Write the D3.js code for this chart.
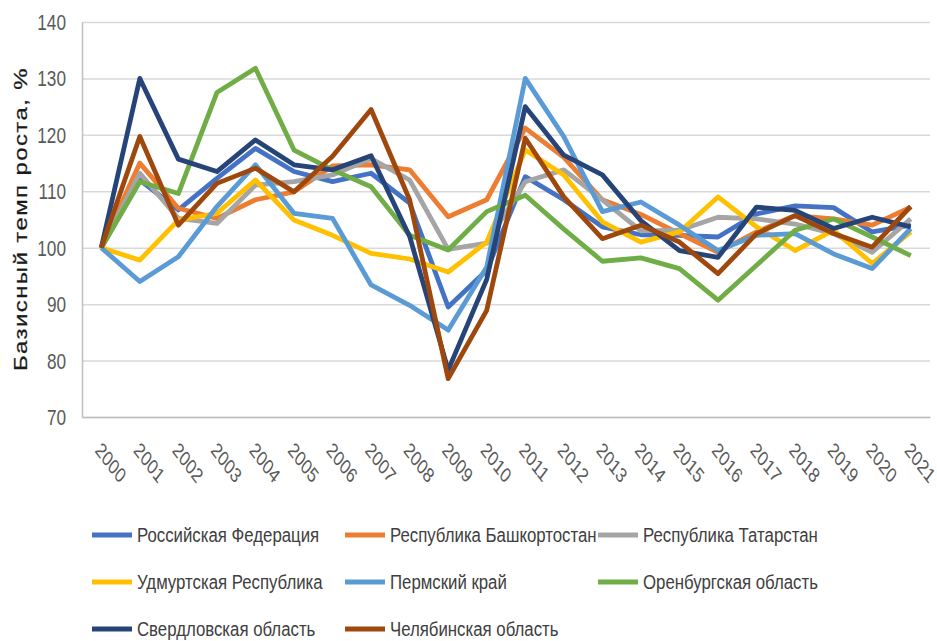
<!DOCTYPE html>
<html>
<head>
<meta charset="utf-8">
<script src="https://cdn.jsdelivr.net/npm/d3@7"></script>
<style>
    body { margin: 0; background: #fff; }
    text { font-family: "Liberation Sans", Arial, sans-serif; }
</style>
</head>
<body>
<div id="main"></div>
<script>
const width = 937, height = 641;
const margin = {left: 82, top: 22, right: 7, bottom: 224};
const squeeze = 0.8; // text in the source picture is horizontally compressed

const years = ["2000", "2001", "2002", "2003", "2004", "2005", "2006", "2007", "2008", "2009", "2010",
    "2011", "2012", "2013", "2014", "2015", "2016", "2017", "2018", "2019", "2020", "2021"];
const yTicks = [70, 80, 90, 100, 110, 120, 130, 140];

const names = ["Российская Федерация", "Республика Башкортостан", "Республика Татарстан",
    "Удмуртская Республика", "Пермский край", "Оренбургская область",
    "Свердловская область", "Челябинская область"];
const colors = ["#4472C4", "#ED7D31", "#A5A5A5", "#FFC000", "#5B9BD5", "#70AD47", "#264478", "#9E480E"];

const russia      = [100, 112.0, 106.7, 112.3, 117.6, 113.5, 111.7, 113.2, 107.9, 89.5, 96.0, 112.6, 108.5, 103.7, 102.3, 102.2, 101.9, 106.0, 107.4, 107.1, 102.8, 104.0];
const bashkiria   = [100, 115.0, 107.0, 105.2, 108.5, 109.9, 114.5, 114.7, 113.8, 105.5, 108.5, 121.2, 116.0, 108.5, 105.9, 102.5, 99.2, 102.8, 105.7, 105.1, 104.0, 107.2];
const tatarstan   = [100, 113.2, 105.2, 104.3, 111.1, 111.7, 112.9, 115.8, 112.0, 99.7, 100.8, 111.7, 113.8, 108.5, 103.0, 103.1, 105.4, 105.1, 104.2, 102.5, 99.2, 105.1];
const udmurtia    = [100, 97.8, 104.9, 106.1, 112.0, 104.9, 102.2, 99.0, 98.0, 95.7, 101.0, 117.3, 112.9, 104.6, 101.0, 102.8, 109.0, 103.7, 99.5, 103.1, 97.2, 102.8];
const perm        = [100, 94.0, 98.4, 107.3, 114.7, 106.1, 105.2, 93.4, 89.8, 85.4, 96.6, 130.0, 119.7, 106.4, 108.1, 104.0, 99.5, 102.2, 102.5, 98.9, 96.3, 103.4];
const orenburg    = [100, 111.7, 109.6, 127.5, 131.8, 117.3, 113.8, 110.8, 102.2, 99.6, 106.4, 109.3, 103.3, 97.6, 98.2, 96.3, 90.7, 96.9, 103.1, 105.1, 101.9, 98.6];
const sverdlovsk  = [100, 130.0, 115.7, 113.5, 119.1, 114.7, 113.8, 116.3, 102.0, 78.3, 94.4, 125.0, 116.4, 112.9, 104.8, 99.5, 98.3, 107.2, 106.6, 103.4, 105.4, 103.7];
const chelyabinsk = [100, 119.7, 104.0, 111.4, 114.1, 109.9, 116.2, 124.5, 108.5, 76.8, 88.9, 119.4, 109.0, 101.6, 104.0, 101.0, 95.4, 102.5, 105.7, 102.5, 100.1, 107.3];

const series = [russia, bashkiria, tatarstan, udmurtia, perm, orenburg, sverdlovsk, chelyabinsk];

let svg = d3.select("#main").append("svg")
    .attr("width", width)
    .attr("height", height);

let scaleX = d3.scaleBand().domain(years).range([margin.left, width - margin.right]);
let scaleY = d3.scaleLinear().domain([70, 140]).range([height - margin.bottom, margin.top]);

// grid
svg.append("g")
    .attr("transform", `translate(${margin.left},0)`)
    .call(d3.axisLeft(scaleY).tickValues(yTicks).tickSize(-(width - margin.left - margin.right)).tickFormat(""))
    .call(g => g.select(".domain").remove())
    .call(g => g.selectAll("line").attr("stroke", "#d9d9d9").attr("stroke-width", 1.5));

// y axis
svg.append("g")
    .attr("transform", `translate(${margin.left},0)`)
    .call(d3.axisLeft(scaleY).tickValues(yTicks).tickSize(0))
    .call(g => g.select(".domain").attr("stroke", "#bfbfbf").attr("stroke-width", 1.5))
    .call(g => g.selectAll("text")
        .attr("x", 0).attr("dy", "0.35em")
        .attr("transform", `translate(-16,0) scale(${squeeze},1)`)
        .attr("font-size", 21.5)
        .attr("fill", "#595959")
        .attr("font-family", "Liberation Sans, Arial, sans-serif"));

// x axis
svg.append("g")
    .attr("transform", `translate(0,${height - margin.bottom})`)
    .call(d3.axisBottom(scaleX).tickSize(0))
    .call(g => g.select(".domain").attr("stroke", "#bfbfbf").attr("stroke-width", 1.5))
    .call(g => g.selectAll("text")
        .attr("x", 0).attr("y", 0).attr("dy", "0.35em")
        .attr("text-anchor", "start")
        .attr("transform", `translate(-3,29) scale(0.76,1) rotate(45)`)
        .attr("font-size", 21)
        .attr("fill", "#595959")
        .attr("font-family", "Liberation Sans, Arial, sans-serif"));

// y label
svg.append("text")
    .attr("transform", `translate(27,219) rotate(-90) scale(1,${squeeze})`)
    .attr("text-anchor", "middle")
    .attr("font-size", 24)
    .attr("letter-spacing", 1.4)
    .attr("fill", "#1a1a1a")
    .attr("stroke", "#1a1a1a")
    .attr("stroke-width", 0.3)
    .text("Базисный темп роста, %");

// lines
let line = d3.line()
    .x((d, i) => scaleX(years[i]) + scaleX.bandwidth() / 2)
    .y(d => scaleY(d));

svg.selectAll(".series")
    .data(series)
    .join("path")
    .attr("class", "series")
    .attr("fill", "none")
    .attr("stroke", (d, i) => colors[i])
    .attr("stroke-width", 4.8)
    .attr("stroke-linejoin", "round")
    .attr("d", line);

// legend
const legX = [92, 345, 598], legY = [535, 582, 629];
let leg = svg.selectAll(".leg")
    .data(names)
    .join("g")
    .attr("class", "leg")
    .attr("transform", (d, i) => `translate(${legX[i % 3]},${legY[Math.floor(i / 3)]})`);

leg.append("line")
    .attr("x1", 0).attr("x2", 40)
    .attr("stroke", (d, i) => colors[i])
    .attr("stroke-width", 5);

leg.append("text")
    .attr("transform", `translate(45,0) scale(${squeeze},1)`)
    .attr("dy", "0.35em")
    .attr("font-size", 21)
    .attr("fill", "#404040")
    .text(d => d);
</script>
</body>
</html>
